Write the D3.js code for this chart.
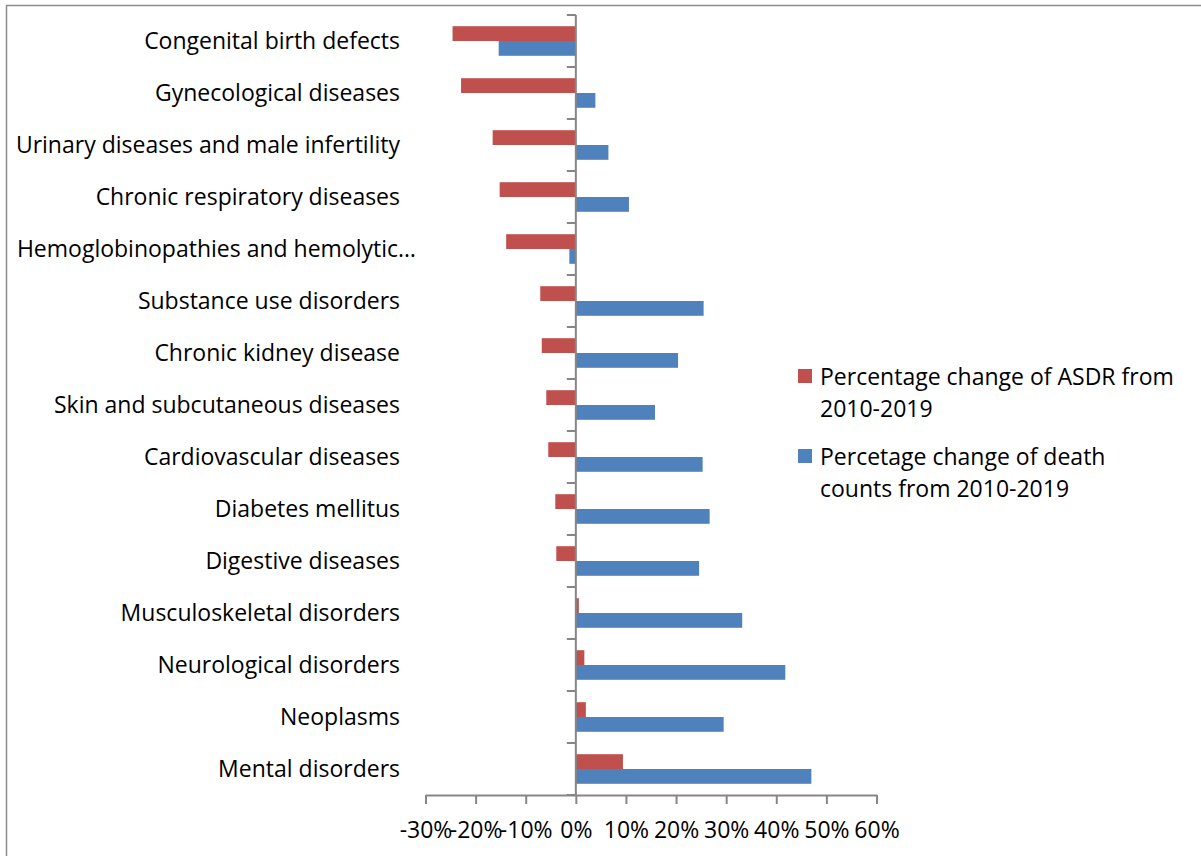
<!DOCTYPE html>
<html>
<head>
<meta charset="utf-8">
<script src="https://cdn.jsdelivr.net/npm/d3@7"></script>
<style>
  html, body { margin: 0; padding: 0; background: #fff; }
  svg { display: block; }
  text { font-family: "Open Sans", Lato, sans-serif; fill: #000; }
</style>
</head>
<body>
<svg id="chart" width="1201" height="856"></svg>
<script>
// Disease categories, top to bottom
const categories = [
  "Congenital birth defects",
  "Gynecological diseases",
  "Urinary diseases and male infertility",
  "Chronic respiratory diseases",
  "Hemoglobinopathies and hemolytic…",
  "Substance use disorders",
  "Chronic kidney disease",
  "Skin and subcutaneous diseases",
  "Cardiovascular diseases",
  "Diabetes mellitus",
  "Digestive diseases",
  "Musculoskeletal disorders",
  "Neurological disorders",
  "Neoplasms",
  "Mental disorders"
];

// Percentage change of ASDR, 2010-2019 (%)
const asdrChange = [-24.6, -22.9, -16.6, -15.2, -13.9, -7.1, -6.8, -5.9, -5.5, -4.1, -3.9, 0.6, 1.7, 2.0, 9.4];

// Percentage change of death counts, 2010-2019 (%)
const deathChange = [-15.4, 3.9, 6.5, 10.6, -1.3, 25.5, 20.4, 15.8, 25.3, 26.7, 24.6, 33.2, 41.8, 29.5, 47.0];

const legendLines = [
  ["Percentage change of ASDR from", "2010-2019"],
  ["Percetage change of death", "counts from 2010-2019"]
];
const tickValues = [-30, -20, -10, 0, 10, 20, 30, 40, 50, 60];
const colors = ["#C0504D", "#4F81BD"];
const axisColor = "#868686";
const fontSize = "23px";

const svg = d3.select("#chart");

// Outer chart frame
svg.append("rect")
  .attr("x", 6.5).attr("y", 5.5)
  .attr("width", 1220).attr("height", 900)
  .attr("fill", "none").attr("stroke", "#8c8c8c").attr("stroke-width", 1.5);

const x = d3.scaleLinear().domain([-30, 60]).range([425.5, 876.5]);
const y = d3.scaleBand().domain(categories).range([15, 795]).paddingInner(0).paddingOuter(0);
const ySub = d3.scaleBand().domain([0, 1]).range([0, y.bandwidth()]).paddingInner(0).paddingOuter(0.757);

const rows = categories.map((c, i) => ({ cat: c, vals: [asdrChange[i], deathChange[i]] }));

// Bars: ASDR change above, death-count change below, within each category band
const g = svg.append("g");
rows.forEach(r => {
  r.vals.forEach((v, s) => {
    g.append("rect")
      .attr("x", x(Math.min(0, v)))
      .attr("y", y(r.cat) + ySub(s))
      .attr("width", Math.abs(x(v) - x(0)))
      .attr("height", ySub.bandwidth())
      .attr("fill", colors[s]);
  });
});

// Category axis drawn at zero, with ticks at band boundaries
const boundaries = categories.map(c => y(c)).concat([y.range()[1]]);
svg.append("g").selectAll("line").data(boundaries).join("line")
  .attr("x1", x(0) - 9).attr("x2", x(0))
  .attr("y1", d => d).attr("y2", d => d)
  .attr("stroke", axisColor).attr("stroke-width", 2);
svg.append("line")
  .attr("x1", x(0)).attr("x2", x(0))
  .attr("y1", y.range()[0]).attr("y2", y.range()[1])
  .attr("stroke", axisColor).attr("stroke-width", 2);

// Category labels (a truncated label keeps its ellipsis past the usual right edge)
svg.append("g").selectAll("text").data(categories).join("text")
  .attr("x", d => d.endsWith("…") ? 416 : 400)
  .attr("y", d => y(d) + y.bandwidth() / 2 - 1)
  .attr("text-anchor", "end")
  .attr("dominant-baseline", "central")
  .style("font-size", fontSize)
  .text(d => d);

// Value axis
const xAxis = d3.axisBottom(x).tickValues(tickValues).tickSize(9).tickSizeOuter(0)
  .tickFormat(d => d + "%");
const xAxisG = svg.append("g").attr("transform", "translate(0,795)").call(xAxis);
xAxisG.select(".domain").attr("stroke", axisColor).attr("stroke-width", 2);
xAxisG.selectAll(".tick line").attr("stroke", axisColor).attr("stroke-width", 2);
xAxisG.selectAll(".tick text")
  .attr("y", 34)
  .attr("dy", "0")
  .attr("dominant-baseline", "central")
  .style("font-size", fontSize)
  .style("font-family", "'Open Sans', sans-serif")
  .attr("fill", "#000");

// Legend
const legend = svg.append("g");
const legendTop = [376, 456];
legendLines.forEach((lines, s) => {
  legend.append("rect")
    .attr("x", 798).attr("y", legendTop[s] - 7)
    .attr("width", 14).attr("height", 14)
    .attr("fill", colors[s]);
  lines.forEach((ln, k) => {
    legend.append("text")
      .attr("x", 820).attr("y", legendTop[s] + k * 32)
      .attr("dominant-baseline", "central")
      .style("font-size", fontSize)
      .text(ln);
  });
});
</script>
</body>
</html>
